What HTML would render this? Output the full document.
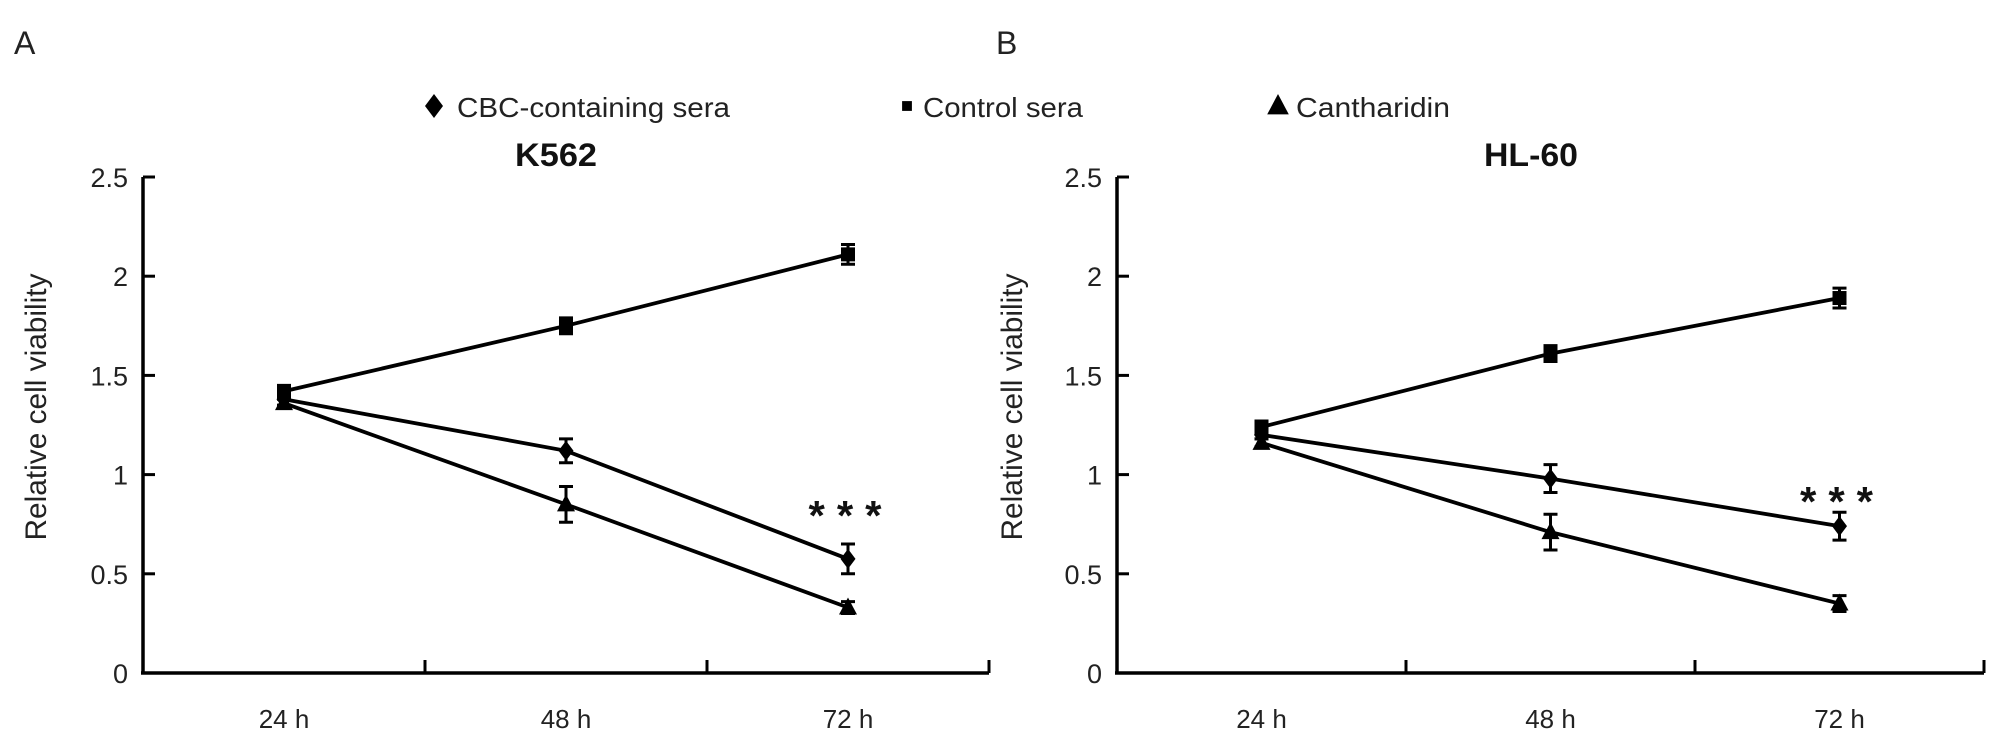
<!DOCTYPE html>
<html><head><meta charset="utf-8"><style>
html,body{margin:0;padding:0;background:#fff;}
svg{display:block;font-family:"Liberation Sans",Arial,sans-serif;}
</style></head><body>
<svg id="chart" width="2008" height="749" viewBox="0 0 2008 749" xmlns="http://www.w3.org/2000/svg"></svg>
<script>
const categories = ["24 h", "48 h", "72 h"];
const yTicks = [0, 0.5, 1, 1.5, 2, 2.5];
const yTickLabels = ["0", "0.5", "1", "1.5", "2", "2.5"];
const aControl = [1.42, 1.75, 2.11];
const aControlErr = [0.03, 0.04, 0.05];
const aCBC = [1.38, 1.12, 0.575];
const aCBCErr = [0.03, 0.06, 0.075];
const aCanth = [1.36, 0.85, 0.33];
const aCanthErr = [0.02, 0.09, 0.03];
const bControl = [1.24, 1.61, 1.89];
const bControlErr = [0.03, 0.04, 0.05];
const bCBC = [1.2, 0.98, 0.74];
const bCBCErr = [0.02, 0.07, 0.07];
const bCanth = [1.16, 0.71, 0.35];
const bCanthErr = [0.02, 0.09, 0.04];

const NS = "http://www.w3.org/2000/svg";
const svg = document.getElementById("chart");
function mk(tag, attrs, parent, text) {
  const e = document.createElementNS(NS, tag);
  for (const k in attrs) e.setAttribute(k, attrs[k]);
  if (text !== undefined) e.textContent = text;
  (parent || svg).appendChild(e);
  return e;
}
function marker(g, type, x, y, s) {
  let e;
  if (type === "diamond") e = mk("polygon", {points: `${x},${y-s} ${x+s*0.75},${y} ${x},${y+s} ${x-s*0.75},${y}`, fill: "#000"}, g);
  else if (type === "square") e = mk("rect", {x: x-s*0.7, y: y-s*0.7, width: s*1.4, height: s*1.4, fill: "#000"}, g);
  else e = mk("polygon", {points: `${x},${y-s} ${x+s*0.9},${y+s*0.7} ${x-s*0.9},${y+s*0.7}`, fill: "#000"}, g);
  return e;
}

function panel(cfg) {
  const g = mk("g", {});
  
  
  const x0 = cfg.x0, x1 = cfg.x1, yTop = 177, yBot = 673;
  const yS = v => yBot - (v / 2.5) * (yBot - yTop);
  const band = (x1 - x0) / 3;
  const xS = i => x0 + band * (i + 0.5);
  const ya = mk("line", {x1: x0, y1: yTop, x2: x0, y2: yBot, stroke: "#000", "stroke-width": 3.5}, g);
  
  
  const xa = mk("line", {x1: x0 - 2, y1: yBot, x2: x1, y2: yBot, stroke: "#000", "stroke-width": 3.5}, g);
  
  
  yTicks.forEach((v, i) => {
    const y = yS(v);
    if (v > 0) mk("line", {x1: x0, y1: y, x2: x0 + 12, y2: y, stroke: "#000", "stroke-width": 3}, g);
    const t = mk("text", {x: x0 - 15, y: y + 10, "font-size": 27, "text-anchor": "end", fill: "#222"}, g, yTickLabels[i]);
    
    
  });
  for (let i = 1; i <= 3; i++) {
    const x = x0 + band * i;
    mk("line", {x1: x, y1: yBot, x2: x, y2: yBot - 13, stroke: "#000", "stroke-width": 3}, g);
  }
  categories.forEach((c, i) => {
    const t = mk("text", {x: xS(i), y: yBot + 55, "font-size": 26, "text-anchor": "middle", fill: "#222"}, g, c);
    
    
  });
  const yt = mk("text", {x: 0, y: 0, "font-size": 30, "text-anchor": "middle", fill: "#222", textLength: 267, lengthAdjust: "spacingAndGlyphs", transform: `translate(${cfg.ytx},407) rotate(-90)`}, g, "Relative cell viability");
  
  
  const tt = mk("text", {x: cfg.titleX, y: 166, "font-size": 32, "font-weight": "bold", "text-anchor": "middle", fill: "#111", textLength: cfg.titleLen, lengthAdjust: "spacingAndGlyphs"}, g, cfg.title);
  
  
  const series = [
    {vals: cfg.control, err: cfg.controlErr, m: "square", n: "control-sera"},
    {vals: cfg.cbc, err: cfg.cbcErr, m: "diamond", n: "cbc-containing-sera"},
    {vals: cfg.canth, err: cfg.canthErr, m: "triangle", n: "cantharidin"}
  ];
  series.forEach(s => {
    const sg = mk("g", {}, g);
    
    
    const pts = s.vals.map((v, i) => `${xS(i)},${yS(v)}`).join(" ");
    mk("polyline", {points: pts, fill: "none", stroke: "#000", "stroke-width": 3.8}, sg);
    s.vals.forEach((v, i) => {
      const x = xS(i), y1 = yS(v + s.err[i]), y2 = yS(v - s.err[i]);
      const eb = mk("path", {d: `M${x},${y1}V${y2}M${x-7},${y1}H${x+7}M${x-7},${y2}H${x+7}`, stroke: "#000", "stroke-width": 3, fill: "none"}, sg);
      
      
      const mm = marker(sg, s.m, x, yS(v), 10);
      
      
    });
  });
  const st = mk("text", {x: xS(2) - 3, y: cfg.starY, "font-size": 42, "font-weight": "bold", "text-anchor": "middle", fill: "#111", textLength: 73, lengthAdjust: "spacing"}, g, "***");
  
  
}

panel({name: "panel-a-k562", x0: 143, x1: 989, ytx: 46, titleX: 556, titleLen: 82, title: "K562",
  control: aControl, controlErr: aControlErr, cbc: aCBC, cbcErr: aCBCErr, canth: aCanth, canthErr: aCanthErr, starY: 530});
panel({name: "panel-b-hl60", x0: 1117, x1: 1984, ytx: 1022, titleX: 1531, titleLen: 94, title: "HL-60",
  control: bControl, controlErr: bControlErr, cbc: bCBC, cbcErr: bCBCErr, canth: bCanth, canthErr: bCanthErr, starY: 516});

const la = mk("text", {x: 14, y: 54, "font-size": 32, fill: "#222"}, svg, "A");


const lb = mk("text", {x: 996, y: 54, "font-size": 32, fill: "#222"}, svg, "B");



const legend = mk("g", {});


const entries = [
  {m: "diamond", x: 434, tx: 457, len: 273, label: "CBC-containing sera", n: "legend-entry-cbc"},
  {m: "square", x: 907, tx: 923, len: 160, label: "Control sera", n: "legend-entry-control"},
  {m: "triangle", x: 1278, tx: 1296, len: 154, label: "Cantharidin", n: "legend-entry-cantharidin"}
];
entries.forEach(e => {
  const eg = mk("g", {}, legend);
  
  
  marker(eg, e.m, e.x, 106, e.m === "square" ? 7 : 12);
  mk("text", {x: e.tx, y: 117, "font-size": 28, fill: "#222", textLength: e.len, lengthAdjust: "spacingAndGlyphs"}, eg, e.label);
});
</script>
</body></html>
